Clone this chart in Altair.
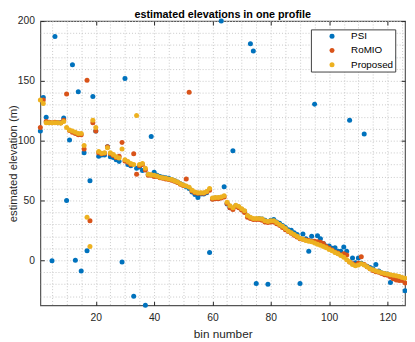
import altair as alt
import pandas as pd

bins = list(range(1, 127))

psi = [108, 136, 119.5, 115, -0.5, 187, 115, 115, 119, 50,
       100.5, 163.5, 0, 141, -9, 90, 8, 66.5, 137, 108,
       87, 88, 88, 95, 86.5, 86, 84, 82.5, -1.5, 152,
       80, 79, -30, 77, 78, 75, -37.7, 72, 103.5, 73.5,
       71, 70, 69.5, 69, 68.5, 67.5, 66.5, 65.5, 64, 63,
       61.5, 60, 57, 55, 52.5, 55.5, 55.5, 56.5, 6.5, 51.5,
       52, 52, 200, 61.5, 47, 44, 91.5, 45.5, 44.5, 42.5,
       41, 37, 181, 175, -19.5, 35, 34.5, 33.5, -20, 33.5,
       34, 32, 31, 29, 27.5, 25.5, 25, 23, 21.5, -19.5,
       22, 18, 7.5, 20, 130.5, 20.5, 18, 14, 12, 12,
       10, 10.5, 7.5, 7.5, 11, 7.5, 117, 2, -2, 2,
       -2.5, 105.5, -5, -6, -7, -3.5, -9, -10.5, -11, -11.5,
       -18.5, 170, -15, -14, -15, -25.5]

romio = [111, 134, 116, 115.5, 115, 115.5, 115, 115, 117, 139,
         108.5, 107, 106, 105, 105, 93, 150.5, 33, 115, 108,
         90, 89, 89.5, 95, 89, 87.5, 86, 87, 98.5, 83,
         82, 80, 89, 72, 79, 80, 75.5, 71, 71, 70,
         70, 69, 68.5, 68, 67.5, 67, 66, 65, 63.5, 62.5,
         68, 140.5, 58, 56.5, 56, 56, 56, 57, 58.5, 51,
         51.5, 51.5, 52, 53, 47.5, 44, 42.5, 45, 44, 42,
         40, 36, 35, 34, 34, 34, 33.5, 32, 31.5, 32,
         32, 30.5, 29, 27.5, 25.5, 24, 22.5, 21, 19.5, 18,
         17.5, 17, 16.5, 16, 16, 15.5, 15, 14, 11.5, 10,
         8.5, 7, 6, 4.5, 5.5, 4.5, -1.5, -3, -4, -2.5,
         3, -3.5, -5.5, -7, -8.5, -9.5, -10, -11, -12, -12.5,
         -14, -15.5, -16.5, -17, -17, -19]

proposed = [134, 131, 115, 115, 115, 115, 115, 114.5, 116, 111,
            109, 108, 107, 106, 106, 96, 36, 11.5, 117, 111,
            91, 89.5, 90, 94, 90, 88.5, 86.5, 85.5, 93, 84,
            82.5, 81, 80, 121, 80, 81, 77, 72, 71.5, 71,
            70.5, 69.5, 69, 68.5, 68, 67.5, 66.5, 65.5, 64, 63,
            62, 61, 58.5, 57, 56.5, 56.5, 56.5, 57.5, 60, 52,
            52.5, 52.5, 53, 54, 48.5, 45.5, 44, 46, 45, 43,
            41.5, 37.5, 36, 35, 35, 35, 34.5, 33, 32.5, 33,
            33, 31.5, 30, 28.5, 26.5, 24.5, 23, 21.5, 20, 18.5,
            17.5, 16.5, 16, 15.5, 14.5, 13.5, 12.5, 11.5, 10.5, 9,
            8, 6.5, 5.5, 4, 2.5, 0.5, -1.5, -3.5, -4.5, -4,
            -3, -4, -5.5, -7, -8, -9, -9.5, -10.5, -11, -11.5,
            -12, -12.5, -13, -13.5, -14.5, -15]

series_names = ["PSI", "RoMIO", "Proposed"]
series_colors = ["#0072BD", "#D95319", "#EDB120"]

x_tick_vals = [20, 40, 60, 80, 100, 120]
y_tick_vals = [0, 50, 100, 150, 200]
x_grid_vals = list(range(5, 126, 5))
y_grid_vals = list(range(-30, 201, 10))

rows = []
for k, (name, vals) in enumerate(zip(series_names, [psi, romio, proposed])):
    for b, v in zip(bins, vals):
        rows.append({"bin": b, "elev": v, "series": name, "k": k})
df = pd.DataFrame(rows)

FONT = "Liberation Sans"
TXT = "#262626"
W, H = 372, 290
xscale = alt.Scale(domain=[1, 126], nice=False, zero=False)
yscale = alt.Scale(domain=[-37.7, 200], nice=False, zero=False)

base = alt.Chart(df)

grid = base.mark_point(opacity=0).encode(
    x=alt.X("bin:Q", scale=xscale, axis=alt.Axis(
        orient="bottom", values=x_grid_vals, grid=True, gridDash=[1, 2],
        gridColor="#c8c8c8", gridWidth=1, labels=False, ticks=False,
        domain=False, title=None)),
    y=alt.Y("elev:Q", scale=yscale, axis=alt.Axis(
        orient="left", values=y_grid_vals, grid=True, gridDash=[1, 2],
        gridColor="#c8c8c8", gridWidth=1, labels=False, ticks=False,
        domain=False, title=None)),
)

points = base.mark_point(filled=True, size=26, opacity=1).encode(
    x=alt.X("bin:Q", scale=xscale, axis=alt.Axis(
        orient="bottom", values=x_tick_vals, title="bin number",
        ticks=False, domain=False, grid=False, labelPadding=7,
        labelFontSize=10.5, titleFontSize=12, titleFontWeight="normal",
        titleY=33, titleBaseline="alphabetic")),
    y=alt.Y("elev:Q", scale=yscale, axis=alt.Axis(
        orient="left", values=y_tick_vals, title="estimated elevation (m)",
        ticks=False, domain=False, grid=False, labelPadding=6,
        labelFontSize=10.5, titleFontSize=11.5, titleFontWeight="normal",
        titleX=-24, titleY=H / 2, titleAngle=-90, titleBaseline="alphabetic",
        titleAlign="center")),
    color=alt.Color("series:N", scale=alt.Scale(domain=series_names, range=series_colors),
                    legend=alt.Legend(
                        title=None, orient="none", legendX=276, legendY=8.5,
                        fillColor="white", strokeColor="#404040", padding=2,
                        symbolType="circle", symbolSize=26, symbolOffset=14.5,
                        symbolStrokeWidth=0, labelOffset=14.5, labelFontSize=10,
                        labelFont=FONT, labelColor="black", rowPadding=4.5)),
    order=alt.Order("k:Q"),
)

ticks_bl = base.mark_point(opacity=0).encode(
    x=alt.X("bin:Q", scale=xscale, axis=alt.Axis(
        orient="bottom", values=x_tick_vals, offset=-4, tickSize=4,
        tickColor=TXT, labels=False, domain=False, grid=False, title=None, zindex=1)),
    y=alt.Y("elev:Q", scale=yscale, axis=alt.Axis(
        orient="left", values=y_tick_vals, offset=-4, tickSize=4,
        tickColor=TXT, labels=False, domain=False, grid=False, title=None, zindex=1)),
)

ticks_tr = base.mark_point(opacity=0).encode(
    x=alt.X("bin:Q", scale=xscale, axis=alt.Axis(
        orient="top", values=x_tick_vals, offset=-4, tickSize=4,
        tickColor=TXT, labels=False, domain=False, grid=False, title=None, zindex=1)),
    y=alt.Y("elev:Q", scale=yscale, axis=alt.Axis(
        orient="right", values=y_tick_vals, offset=-4, tickSize=4,
        tickColor=TXT, labels=False, domain=False, grid=False, title=None, zindex=1)),
)

chart = alt.layer(grid, points, ticks_bl, ticks_tr).resolve_axis(
    x="independent", y="independent"
).properties(
    width=W, height=H,
    autosize=alt.AutoSizeParams(type="none"),
    padding={"left": 33, "top": 10, "right": 2, "bottom": 32},
    title=alt.TitleParams("estimated elevations in one profile", fontSize=11,
                          fontWeight="bold", font=FONT, color="black",
                          offset=0, dy=12.5, anchor="middle", baseline="alphabetic"),
).configure_view(
    stroke="#555555", strokeWidth=1.2
).configure_axis(
    labelFont=FONT, titleFont=FONT, labelColor=TXT, titleColor=TXT
)

chart.save("out.html", embed_options={"renderer": "svg", "actions": False})
